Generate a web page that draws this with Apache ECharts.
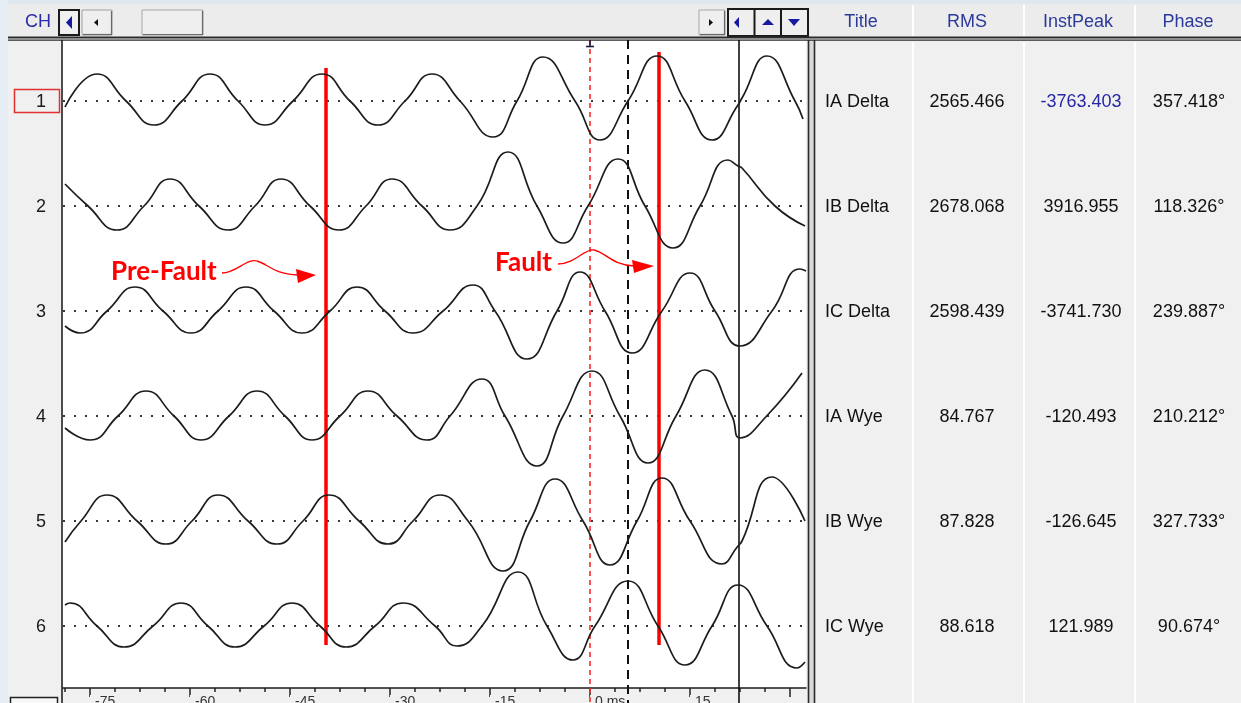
<!DOCTYPE html>
<html><head><meta charset="utf-8">
<script src="https://cdn.jsdelivr.net/npm/echarts@6/dist/echarts.min.js"></script>
<style>html,body{margin:0;padding:0;background:#f0f0f0;overflow:hidden}#c{width:1241px;height:703px}</style>
</head><body><div id="c"></div>
<script>
// ---------------- data ----------------
const channelNumbers = ['1', '2', '3', '4', '5', '6'];
const titles = ['IA Delta', 'IB Delta', 'IC Delta', 'IA Wye', 'IB Wye', 'IC Wye'];
const rmsValues = ['2565.466', '2678.068', '2598.439', '84.767', '87.828', '88.618'];
const instPeakValues = ['-3763.403', '3916.955', '-3741.730', '-120.493', '-126.645', '121.989'];
const phaseValues = ['357.418°', '118.326°', '239.887°', '210.212°', '327.733°', '90.674°'];

// time axis (ms)
const majorTicks = [-75, -60, -45, -30, -15, 0, 15, 30];
const majorTickLabels = ['-75', '-60', '-45', '-30', '-15', '0 ms', '15', ''];
const minorTicks = [-78.75, -71.25, -67.5, -63.75, -56.25, -52.5, -48.75, -41.25, -37.5, -33.75,
  -26.25, -22.5, -18.75, -11.25, -7.5, -3.75, 3.75, 7.5, 11.25, 18.75, 22.5, 26.25];

// waveform samples [time ms, value (screen divisions, + up)]
const ch1 = [[-78.75,-6],[-73.95,27],[-69.6,0],[-65.4,-24],[-61.2,0],[-57.0,27],[-52.8,0],[-48.75,-24],
  [-44.55,0],[-40.2,27],[-36.0,0],[-31.8,-24],[-27.75,0],[-23.7,27],[-19.5,0],[-14.55,-36],[-10.95,0],
  [-7.05,44],[-2.25,0],[1.5,-39],[5.7,0],[10.05,45],[14.25,0],[18.3,-39],[22.2,-4],[22.8,3],[26.55,45],
  [30.75,0],[31.95,-18]];
const ch2 = [[-78.75,22],[-75.3,0],[-70.95,-24],[-66.9,0],[-63.0,27],[-58.65,0],[-54.3,-24],[-50.25,0],
  [-46.35,27],[-42.0,0],[-37.65,-24],[-33.6,0],[-29.7,27],[-25.2,0],[-21.0,-24],[-16.95,0],[-12.3,54],
  [-7.95,0],[-4.05,-37],[-0.3,0],[4.2,47],[8.25,0],[12.45,-42],[16.5,0],[20.7,46],[22.2,40],[22.8,38],
  [27.75,0],[32.25,-20]];
const ch3 = [[-78.75,-15],[-76.5,-22],[-72.45,0],[-68.25,24],[-64.05,0],[-59.85,-22],[-55.8,0],[-51.6,24],
  [-47.4,0],[-43.2,-22],[-39.0,0],[-34.95,24],[-30.75,0],[-26.55,-22],[-22.05,0],[-17.55,26],[-14.25,0],
  [-9.45,-48],[-4.95,0],[-1.5,39],[2.25,0],[6.3,-42],[10.8,0],[15.0,38],[18.75,0],[22.5,-35],[27.3,0],
  [31.5,42],[32.4,40]];
const ch4 = [[-78.75,-12],[-75.0,-24],[-70.8,0],[-66.6,25],[-62.4,0],[-58.35,-24],[-54.15,0],[-49.95,25],
  [-45.75,0],[-41.7,-24],[-37.5,0],[-33.3,25],[-28.95,0],[-24.45,-24],[-21.0,0],[-16.2,37],[-12.75,0],
  [-7.95,-50],[-4.05,0],[0.3,45],[4.5,0],[8.7,-47],[12.9,0],[17.25,46],[21.3,0],[22.5,-22],[26.5,0],
  [31.8,43]];
const ch5 = [[-78.75,-21],[-76.35,0],[-72.45,26],[-67.95,0],[-63.6,-23],[-59.7,0],[-55.8,26],[-51.3,0],
  [-46.95,-23],[-43.05,0],[-39.15,26],[-34.65,0],[-30.3,-23],[-26.55,0],[-22.5,26],[-18.3,0],[-13.05,-50],
  [-9.0,0],[-5.25,42],[-1.05,0],[3.0,-44],[7.05,0],[10.8,43],[15.0,0],[19.8,-43],[22.2,-25],[22.8,-20],
  [27.3,44],[32.25,0]];
const ch6 = [[-78.75,21],[-78.0,23],[-73.95,0],[-69.9,-21],[-65.55,0],[-61.35,23],[-57.3,0],[-53.25,-21],
  [-48.9,0],[-44.7,23],[-40.5,0],[-36.6,-21],[-32.25,0],[-28.05,23],[-23.25,0],[-19.95,-20],[-16.2,0],
  [-10.8,54],[-6.45,0],[-2.55,-34],[0.75,0],[5.7,45],[10.2,0],[14.25,-39],[18.3,0],[22.2,41],[26.55,0],
  [31.05,-42],[32.25,-36]];
const channels = [ch1, ch2, ch3, ch4, ch5, ch6];

// cursors: [time ms, top offset, bottom offset] (offsets in px below plot top)
const cursorRedDashed = [0, 0, 663];
const cursorBlackDashed = [5.7, 0, 663];
const cursorBlackSolid = [22.35, 0, 663];
const markerPreFault = [-39.6, 28, 605];
const markerFault = [10.35, 12, 605];

// ---------------- layout ----------------
const PL = 63, PW = 743, PT = 40, PH = 648;
const XMIN = -79.05, XMAX = 32.4;
const CH_TOP0 = 49, CH_STEP = 105, CH_H = 104, CH_HALF = 52;
const UI_FONT = '"Liberation Sans", Arial, sans-serif';

const grids = [], xAxes = [], yAxes = [], series = [];
channels.forEach((data, i) => {
  grids.push({ left: PL, top: CH_TOP0 + i * CH_STEP, width: PW, height: CH_H, show: false, outerBoundsMode: 'none', containLabel: false });
  xAxes.push({ type: 'value', gridIndex: i, min: XMIN, max: XMAX, show: false });
  yAxes.push({ type: 'value', gridIndex: i, min: -CH_HALF, max: CH_HALF, show: false });
  series.push({
    type: 'line', xAxisIndex: i, yAxisIndex: i, data: data, smooth: 0.5, clip: false,
    showSymbol: false, symbol: 'none', silent: true, z: 5,
    lineStyle: { color: '#1c1c1c', width: 1.7 },
    markLine: {
      silent: true, symbol: ['none', 'none'], label: { show: false },
      lineStyle: { color: '#3a3a3a', type: [2, 9], width: 2 },
      data: [{ yAxis: 0 }]
    }
  });
});

// overlay grid for cursor lines (extends through time strip)
grids.push({ left: PL, top: PT, width: PW, height: 663, show: false, outerBoundsMode: 'none', containLabel: false });
xAxes.push({ type: 'value', gridIndex: 6, min: XMIN, max: XMAX, show: false });
yAxes.push({ type: 'value', gridIndex: 6, min: 0, max: 663, inverse: true, show: false });
function vline(c, style) {
  return [{ coord: [c[0], c[1]], lineStyle: style }, { coord: [c[0], c[2]] }];
}
series.push({
  type: 'line', xAxisIndex: 6, yAxisIndex: 6, data: [], silent: true, z: 8,
  markLine: {
    silent: true, symbol: ['none', 'none'], label: { show: false }, animation: false,
    data: [
      vline(cursorRedDashed, { color: '#ff2a2a', width: 1.6, type: [5, 4] }),
      vline(cursorBlackDashed, { color: '#111', width: 2, type: [9, 6] }),
      vline(cursorBlackSolid, { color: '#111', width: 1.6, type: 'solid' }),
      vline(markerPreFault, { color: '#ff0000', width: 3.5, type: 'solid' }),
      vline(markerFault, { color: '#ff0000', width: 3.5, type: 'solid' })
    ]
  }
});

// time axis grid
grids.push({ left: PL, top: PT, width: PW, height: PH, show: false, outerBoundsMode: 'none', containLabel: false });
xAxes.push({
  type: 'value', gridIndex: 7, min: XMIN, max: XMAX, position: 'bottom', z: 4,
  axisLine: { show: true, lineStyle: { color: '#1a1a1a', width: 1.5 } },
  axisTick: { show: true, customValues: majorTicks, length: 9, lineStyle: { color: '#222', width: 1.5 } },
  axisLabel: {
    show: true, customValues: majorTicks, align: 'left', verticalAlign: 'top', margin: 7,
    padding: [0, 2, 0, 5], fontSize: 14, fontFamily: UI_FONT, color: '#333',
    backgroundColor: '#f0f0f0',
    formatter: v => { const k = majorTicks.indexOf(v); return k >= 0 ? majorTickLabels[k] : ''; }
  },
  splitLine: { show: false }
});
xAxes.push({
  type: 'value', gridIndex: 7, min: XMIN, max: XMAX, position: 'bottom', z: 3,
  axisLine: { show: false },
  axisTick: { show: true, customValues: minorTicks, length: 4, lineStyle: { color: '#222', width: 1.5 } },
  axisLabel: { show: false }, splitLine: { show: false }
});
yAxes.push({ type: 'value', gridIndex: 7, show: false });

// ---------------- UI chrome (graphic) ----------------
const g = [];
const rect = (x, y, w, h, fill, stroke, lw, z) => ({ type: 'rect', z: z || 0, silent: true,
  shape: { x, y, width: w, height: h }, style: { fill: fill || 'none', stroke: stroke || 'none', lineWidth: lw || 0 } });
const line = (x1, y1, x2, y2, color, lw, z) => ({ type: 'line', z: z || 1, silent: true,
  shape: { x1, y1, x2, y2 }, style: { stroke: color, lineWidth: lw } });
const poly = (pts, fill, z) => ({ type: 'polygon', z: z || 2, silent: true, shape: { points: pts }, style: { fill } });
const bez = (p, z) => ({ type: 'bezierCurve', z: z || 20, silent: true,
  shape: { x1: p[0], y1: p[1], cpx1: p[2], cpy1: p[3], cpx2: p[4], cpy2: p[5], x2: p[6], y2: p[7] },
  style: { fill: 'none', stroke: '#ff0000', lineWidth: 1.3 } });
const text = (x, y, s, opt) => ({ type: 'text', x, y, z: (opt && opt.z) || 3, silent: true,
  style: Object.assign({ text: s, fill: '#111', font: '18px ' + UI_FONT, textAlign: 'left', textVerticalAlign: 'middle',
    align: 'left', verticalAlign: 'middle' }, opt || {}) });

g.push(rect(0, 0, 1241, 4, '#dfe7f1'));
g.push(rect(0, 0, 8, 703, '#e6edf5'));
g.push(rect(8, 4, 1233, 33, '#ececec'));
g.push(rect(PL, PT, PW, PH, '#ffffff'));
g.push(rect(809, 40, 5, 663, '#d9d9d9'));
// borders
g.push(line(8, 37.5, 1241, 37.5, '#2a2a2a', 2));
g.push(line(8, 40.2, 1241, 40.2, '#2a2a2a', 1.2));
g.push(line(62, 40, 62, 703, '#222', 1.6));
g.push(line(808.5, 40, 808.5, 703, '#2a2a2a', 1.6));
g.push(line(814.5, 40, 814.5, 703, '#2a2a2a', 1.6));
[913, 1024, 1135].forEach(x => g.push(line(x, 5, x, 36, '#ffffff', 2)));
[913, 1024, 1135].forEach(x => g.push(line(x, 42, x, 703, '#ffffff', 2)));

// top-left controls
g.push(text(25, 22, 'CH', { fill: '#2b2ba8' }));
g.push(rect(59, 10, 20, 25, '#f0f0f0', '#1a1a1a', 2));
g.push(poly([[66, 22.5], [72, 16], [72, 29]], '#1818a0'));
g.push(rect(82, 10, 30, 25, '#efefef', '#a0a0a0', 1));
g.push(line(83, 34.5, 112, 34.5, '#6a6a6a', 1.2)); g.push(line(111.5, 11, 111.5, 35, '#6a6a6a', 1.2));
g.push(poly([[94, 22.5], [98, 19], [98, 26]], '#111'));
g.push(rect(142, 10, 61, 25, '#efefef', '#a8a8a8', 1));
g.push(line(143, 34.5, 203, 34.5, '#6a6a6a', 1.2)); g.push(line(202.5, 11, 202.5, 35, '#6a6a6a', 1.2));
// top-right controls
g.push(rect(699, 10, 26, 25, '#efefef', '#a8a8a8', 1));
g.push(line(700, 34.5, 725, 34.5, '#6a6a6a', 1.2)); g.push(line(724.5, 11, 724.5, 35, '#6a6a6a', 1.2));
g.push(poly([[713, 22.5], [709, 19], [709, 26]], '#111'));
g.push(rect(728, 9, 80, 27, '#efefef', '#1a1a1a', 2));
g.push(line(754.5, 9, 754.5, 36, '#1a1a1a', 2)); g.push(line(781, 9, 781, 36, '#1a1a1a', 2));
g.push(poly([[734, 22.5], [739, 17], [739, 28]], '#1818a0'));
g.push(poly([[762, 25], [768, 19], [774, 25]], '#1818a0'));
g.push(poly([[788, 19], [800, 19], [794, 26]], '#1818a0'));

// table headers
g.push(text(861, 22, 'Title', { fill: '#2b3a9a', textAlign: 'center', align: 'center' }));
g.push(text(967, 22, 'RMS', { fill: '#2b3a9a', textAlign: 'center', align: 'center' }));
g.push(text(1078, 22, 'InstPeak', { fill: '#2b3a9a', textAlign: 'center', align: 'center' }));
g.push(text(1188, 22, 'Phase', { fill: '#2b3a9a', textAlign: 'center', align: 'center' }));

// channel labels + table rows
channelNumbers.forEach((n, i) => {
  const y = CH_TOP0 + i * CH_STEP + CH_HALF + 1;
  g.push(text(41, y, n, { textAlign: 'center', align: 'center', fill: '#1a1a1a' }));
  g.push(text(825, y, titles[i]));
  g.push(text(967, y, rmsValues[i], { textAlign: 'center', align: 'center' }));
  g.push(text(1081, y, instPeakValues[i], { textAlign: 'center', align: 'center', fill: i === 0 ? '#2626a6' : '#111' }));
  g.push(text(1189, y, phaseValues[i], { textAlign: 'center', align: 'center' }));
});
g.push(rect(14.5, 89.5, 45, 23, 'none', '#e03030', 1.5, 3));
// bottom-left scroll stub
g.push(rect(10.5, 697.5, 47, 8, '#f7f7f7', '#222', 1.5, 3));
// cursor top marker
g.push(line(590, 40, 590, 47, '#1a1a40', 1.6, 9));
g.push(line(586, 46.5, 594, 46.5, '#1a1a40', 1.6, 9));

// annotations
g.push(text(111, 272, 'Pre-Fault', { fill: '#ff0000', font: 'bold 26px Lato, "Open Sans", sans-serif', z: 20 }));
g.push(text(495, 263, 'Fault', { fill: '#ff0000', font: 'bold 26px Lato, "Open Sans", sans-serif', z: 20 }));
g.push(bez([222, 273, 236, 273, 247, 258, 257, 261]));
g.push(bez([257, 261, 268, 264, 273, 274, 298, 275]));
g.push(poly([[296, 269], [316, 275], [298, 283]], '#ff0000', 20));
g.push(bez([558, 264, 575, 264, 585, 248, 594, 250]));
g.push(bez([594, 250, 605, 252, 612, 265, 634, 266]));
g.push(poly([[632, 260], [654, 266], [634, 273]], '#ff0000', 20));

const chart = echarts.init(document.getElementById('c'), null, { renderer: 'canvas' });
chart.setOption({
  backgroundColor: '#f0f0f0',
  animation: false,
  grid: grids, xAxis: xAxes, yAxis: yAxes, series: series,
  graphic: { elements: g }
});
</script></body></html>
